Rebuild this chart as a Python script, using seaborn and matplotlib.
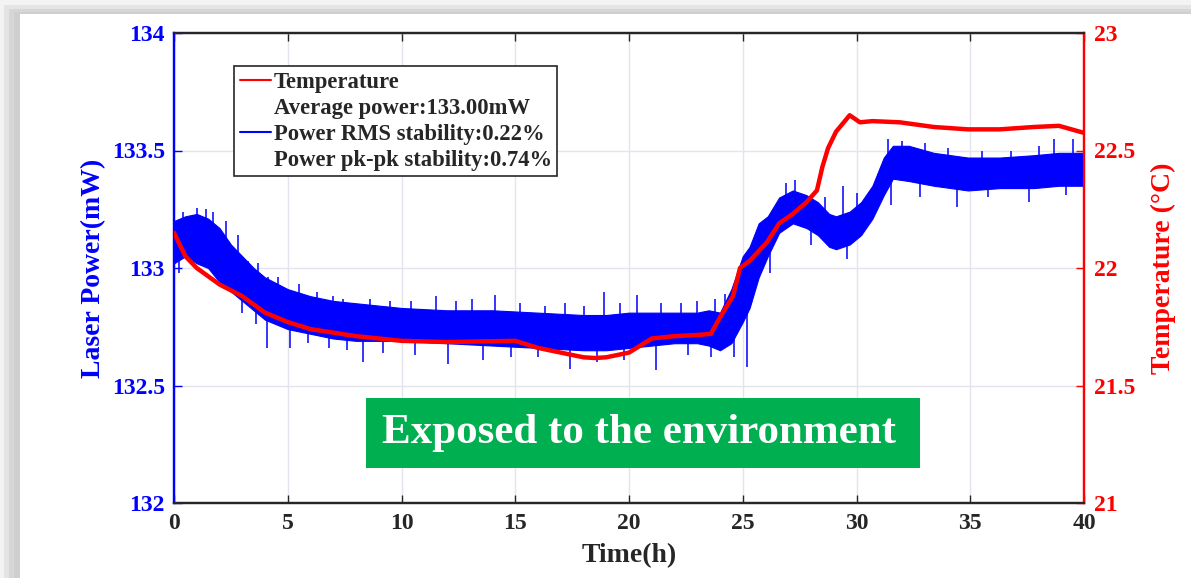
import numpy as np
import pandas as pd
import matplotlib
matplotlib.use("Agg")
import matplotlib.pyplot as plt
from matplotlib.lines import Line2D
from matplotlib.patches import Rectangle
import seaborn as sns

# ---------------- data ----------------
# Temperature (right axis, °C)
temp_t = [0, 0.5, 1, 2, 3, 4, 5, 6, 8, 10, 12, 15, 16, 17, 18, 18.5, 19, 20, 20.5, 21,
          22, 23, 23.6, 24.0, 24.57, 24.88, 25.3, 26.07, 26.6, 27.2, 27.8, 28.26, 28.5,
          28.75, 29.1, 29.7, 30.15, 30.7, 31.9, 33.4, 34.9, 36.3, 37.8, 38.9, 40]
temp_v = [22.15, 22.05, 22.0, 21.93, 21.88, 21.81, 21.77, 21.74, 21.71, 21.69, 21.685,
          21.69, 21.66, 21.64, 21.62, 21.617, 21.62, 21.64, 21.67, 21.70, 21.71, 21.715,
          21.72, 21.79, 21.88, 22.0, 22.03, 22.11, 22.19, 22.23, 22.28, 22.33, 22.43,
          22.51, 22.58, 22.65, 22.62, 22.625, 22.62, 22.60, 22.59, 22.59, 22.60, 22.605,
          22.575]

# Laser power (left axis, mW): dense noise band, upper / lower edges
power_t = [0, 0.5, 1, 1.5, 2, 2.5, 3, 3.5, 4, 5, 6, 7, 8, 10, 12, 14, 16, 18, 19, 20, 21,
           22, 23, 23.5, 24, 24.5, 25, 25.3, 25.7, 26.1, 26.6, 27.2, 27.8, 28.3, 28.8,
           29.1, 29.7, 30.2, 30.7, 31.2, 31.6, 32.3, 33.4, 34.9, 36.3, 37.8, 38.9, 40]
power_hi = [133.20, 133.22, 133.23, 133.21, 133.17, 133.10, 133.05, 133.00, 132.96,
            132.91, 132.88, 132.86, 132.85, 132.83, 132.82, 132.82, 132.81, 132.80,
            132.80, 132.81, 132.81, 132.81, 132.81, 132.82, 132.81, 132.91, 133.05,
            133.09, 133.19, 133.22, 133.30, 133.33, 133.31, 133.28, 133.23, 133.22,
            133.24, 133.28, 133.35, 133.47, 133.52, 133.52, 133.49, 133.47, 133.47,
            133.48, 133.49, 133.49]
power_lo = [133.02, 133.05, 133.02, 133.00, 132.94, 132.90, 132.86, 132.82, 132.78,
            132.74, 132.72, 132.70, 132.69, 132.69, 132.68, 132.67, 132.66, 132.65,
            132.65, 132.66, 132.67, 132.68, 132.68, 132.67, 132.65, 132.68, 132.77,
            132.83, 132.96, 133.05, 133.15, 133.19, 133.17, 133.14, 133.09, 133.08,
            133.10, 133.14, 133.21, 133.31, 133.38, 133.37, 133.35, 133.33, 133.34,
            133.34, 133.35, 133.35]
# isolated noise spikes (time, extreme value)
spike_up_t = [0.4, 1.0, 1.4, 1.73, 2.3, 2.8, 3.27, 3.7, 4.14, 4.58, 5.5, 6.3, 7.0, 7.44,
              8.6, 9.5, 10.4, 11.5, 12.4, 13.1, 14.1, 15.2, 16.3, 17.2, 18.0, 18.9,
              19.6, 20.35, 21.4, 22.3, 23.0, 23.8, 24.2, 26.9, 27.3, 28.6, 29.4, 30.0,
              31.0, 31.4, 32.0, 33.0, 34.0, 35.5, 36.8, 38.0, 38.7, 39.5]
spike_up_v = [133.24, 133.255, 133.25, 133.24, 133.20, 133.14, 133.03, 133.02, 132.96,
              132.96, 132.93, 132.90, 132.88, 132.87, 132.87, 132.86, 132.86, 132.88,
              132.86, 132.87, 132.885, 132.85, 132.84, 132.85, 132.84, 132.90, 132.85,
              132.885, 132.85, 132.85, 132.86, 132.87, 132.89, 133.36, 133.375, 133.30,
              133.35, 133.32, 133.40, 133.55, 133.54, 133.53, 133.51, 133.50, 133.50,
              133.52, 133.55, 133.55]
spike_dn_t = [0.2, 2.97, 3.6, 4.08, 5.1, 5.9, 6.8, 7.6, 8.3, 9.2, 10.6, 12.05, 13.6,
              14.8, 16.0, 17.4, 18.6, 19.8, 21.2, 22.6, 23.6, 24.6, 25.2, 26.2, 28.0,
              29.6, 31.5, 32.8, 34.4, 35.8, 37.6, 39.2]
spike_dn_v = [132.98, 132.81, 132.76, 132.66, 132.66, 132.68, 132.66, 132.65, 132.60,
              132.64, 132.63, 132.59, 132.61, 132.62, 132.62, 132.57, 132.60, 132.61,
              132.565, 132.63, 132.62, 132.62, 132.58, 132.98, 133.10, 133.04, 133.27,
              133.30, 133.26, 133.30, 133.28, 133.31]

x_ticks = [0, 5, 10, 15, 20, 25, 30, 35, 40]
p_ticks = [132, 132.5, 133, 133.5, 134]
p_labels = ["132", "132.5", "133", "133.5", "134"]
t_ticks = [21, 21.5, 22, 22.5, 23]
t_labels = ["21", "21.5", "22", "22.5", "23"]

legend_labels = ["Temperature", "Average power:133.00mW",
                 "Power RMS stability:0.22%", "Power pk-pk stability:0.74%"]
banner_text = "Exposed to the environment"

# ---------------- style ----------------
sns.set_theme(style="white")
plt.rcParams["font.family"] = ["Liberation Serif", "DejaVu Serif"]
plt.rcParams["font.weight"] = "bold"
plt.rcParams["axes.labelweight"] = "bold"

W, H = 1191, 578
fig = plt.figure(figsize=(W / 100, H / 100), dpi=100)
fig.patch.set_facecolor("#f3f3f3")
# soft drop shadow + white card
for (x0, y0, c) in [(4, 5, "#e4e4e4"), (9, 9, "#d6d6d6"), (14, 12, "#cfcfcf"),
                    (20, 14, "white")]:
    fig.patches.append(Rectangle((x0 / W, 0), 1.2, (H - y0) / H,
                                 transform=fig.transFigure, facecolor=c,
                                 edgecolor="none", zorder=-10))

ax = fig.add_axes([174 / W, 75 / H, 910 / W, 470 / H])
ax.set_facecolor("white")
ax2 = ax.twinx()

# power band
ax.fill_between(power_t, power_lo, power_hi, color="blue", lw=0.8, edgecolor="blue",
                zorder=3)
ax.vlines(spike_up_t, np.interp(spike_up_t, power_t, power_hi) - 0.02, spike_up_v,
          color="blue", lw=1.1, zorder=3)
ax.vlines(spike_dn_t, spike_dn_v, np.interp(spike_dn_t, power_t, power_lo) + 0.02,
          color="blue", lw=1.1, zorder=3)

# temperature line
df_t = pd.DataFrame({"time": temp_t, "temp": temp_v})
sns.lineplot(data=df_t, x="time", y="temp", ax=ax2, color="red", lw=3.2, zorder=4)

ax.set_xlim(0, 40)
ax.set_ylim(132, 134)
ax2.set_ylim(21, 23)
ax.set_xticks(x_ticks)
ax.set_xticklabels([str(v) for v in x_ticks])
ax.set_yticks(p_ticks)
ax.set_yticklabels(p_labels)
ax2.set_yticks(t_ticks)
ax2.set_yticklabels(t_labels)

ax.grid(True, color="#e4e4ee", lw=1)
ax.set_axisbelow(True)
ax2.grid(False)

dark = "#262626"
ax.tick_params(axis="x", direction="in", length=6, width=1, top=True, bottom=True,
               colors=dark, labelsize=17, pad=7)
ax.tick_params(axis="y", direction="in", length=6, width=1, colors="blue",
               labelsize=17, pad=6.5)
ax2.tick_params(axis="y", direction="in", length=6, width=1, colors="red",
                labelsize=17, pad=7)
for a in (ax, ax2):
    a.spines["top"].set_color(dark)
    a.spines["bottom"].set_color(dark)
    a.spines["left"].set_color("blue")
    a.spines["right"].set_color("red")
    for s in a.spines.values():
        s.set_linewidth(1.6)
        s.set_visible(True)

ax.set_xlabel("Time(h)", fontsize=20, color=dark, labelpad=7)
ax.set_ylabel("Laser Power(mW)", fontsize=20, color="blue", labelpad=4)
ax2.set_ylabel("Temperature (°C)", fontsize=20, color="red", labelpad=11)

handles = [Line2D([], [], color="red", lw=1.5), Line2D([], [], color="none"),
           Line2D([], [], color="blue", lw=1.5), Line2D([], [], color="none")]
leg = ax2.legend(handles, legend_labels, loc="upper left",
                 bbox_to_anchor=(60 / 910, (503 - 66) / 470), borderaxespad=0,
                 frameon=True, fancybox=False, framealpha=1, edgecolor=dark,
                 handlelength=1.4, handletextpad=0.1, borderpad=0.25,
                 labelspacing=0.22,
                 prop=dict(family="Liberation Serif", weight="bold", size=16.3))
leg.get_frame().set_linewidth(1.2)
leg.set_zorder(10)

# green banner
bx0, bx1 = (366 - 174) / 910, (920 - 174) / 910
by0, by1 = (503 - 468) / 470, (503 - 398) / 470
ax2.add_patch(Rectangle((bx0, by0), bx1 - bx0, by1 - by0, transform=ax2.transAxes,
                        facecolor="#00b050", edgecolor="none", zorder=11))
ax2.text((bx0 + bx1) / 2 - 0.004, (by0 + by1) / 2, banner_text, transform=ax2.transAxes,
         ha="center", va="center", color="white", fontsize=31, fontweight="bold",
         zorder=12)

fig.savefig("out.png", dpi=100, facecolor=fig.get_facecolor())
